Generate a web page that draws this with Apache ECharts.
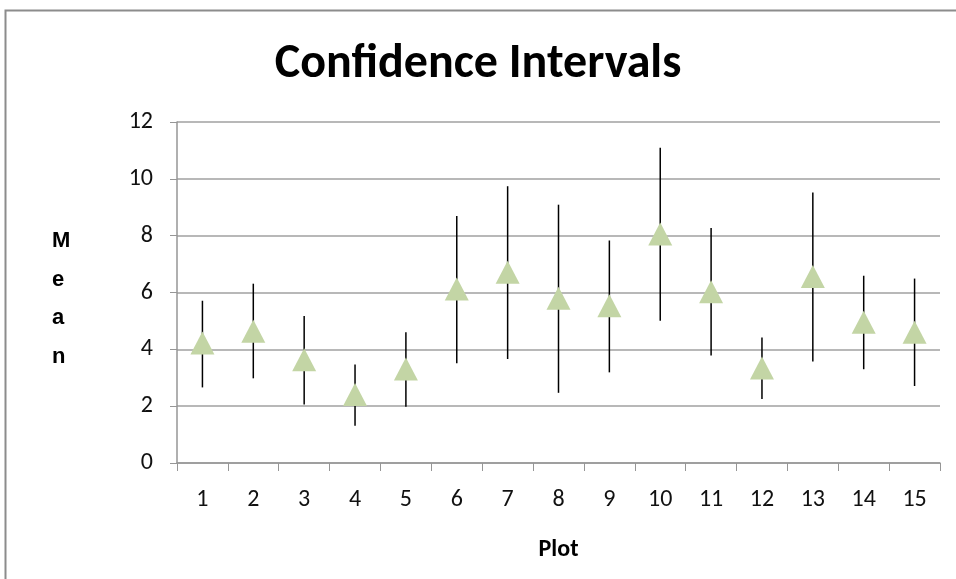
<!DOCTYPE html>
<html>
<head>
<meta charset="utf-8">
<script src="https://cdn.jsdelivr.net/npm/echarts@6/dist/echarts.min.js"></script>
<style>
  html, body { margin: 0; padding: 0; background: #fff; }
  #chart { width: 956px; height: 579px; }
</style>
</head>
<body>
<div id="chart"></div>
<script>
const categories = ["1", "2", "3", "4", "5", "6", "7", "8", "9", "10", "11", "12", "13", "14", "15"];
const means = [4.22, 4.64, 3.63, 2.41, 3.31, 6.12, 6.71, 5.8, 5.53, 8.06, 6.03, 3.34, 6.56, 4.95, 4.6];
const lower = [2.66, 2.98, 2.06, 1.31, 1.98, 3.51, 3.66, 2.47, 3.19, 5.01, 3.78, 2.25, 3.57, 3.3, 2.71];
const upper = [5.71, 6.31, 5.17, 3.47, 4.6, 8.69, 9.74, 9.09, 7.83, 11.09, 8.27, 4.42, 9.52, 6.59, 6.49];
const yTicks = [0, 2, 4, 6, 8, 10, 12];

const font = "Carlito, 'Liberation Sans', 'Noto Sans', sans-serif";

const chart = echarts.init(document.getElementById("chart"), null, { renderer: "canvas" });

const barData = categories.map((c, i) => [i, lower[i], upper[i]]);

chart.setOption({
  backgroundColor: "#fff",
  animation: false,
  title: {
    text: "Confidence Intervals",
    left: "center",
    top: 36,
    textStyle: { fontFamily: font, fontSize: 48, fontWeight: "bold", color: "#000" }
  },
  graphic: [
    {
      type: "rect",
      shape: { x: 5.5, y: 10.5, width: 1000, height: 1000 },
      style: { fill: "none", stroke: "#8c8c8c", lineWidth: 2 },
      silent: true
    },
    {
      type: "text",
      left: 52,
      top: 222,
      style: {
        text: "M\ne\na\nn",
        fontFamily: "'Liberation Sans', Arial, sans-serif",
        fontSize: 22,
        fontWeight: "bold",
        lineHeight: 38.5,
        align: "center",
        fill: "#000"
      }
    }
  ],
  grid: { left: 177, right: 16, top: 122, bottom: 116 },
  xAxis: {
    type: "category",
    data: categories,
    boundaryGap: true,
    name: "Plot",
    nameLocation: "middle",
    nameGap: 75,
    nameTextStyle: { fontFamily: font, fontSize: 24, fontWeight: "bold", color: "#000" },
    axisLine: { lineStyle: { color: "#969696", width: 1.5 } },
    axisTick: { show: true, length: 8, alignWithLabel: false, lineStyle: { color: "#969696" } },
    axisLabel: { fontFamily: font, fontSize: 24, color: "#111", margin: 25 },
    splitLine: { show: false }
  },
  yAxis: {
    type: "value",
    min: yTicks[0],
    max: yTicks[yTicks.length - 1],
    interval: 2,
    axisLine: { show: true, lineStyle: { color: "#969696", width: 1.5 } },
    axisTick: { show: true, length: 7, lineStyle: { color: "#969696" } },
    axisLabel: { fontFamily: font, fontSize: 24, color: "#111", margin: 24 },
    splitLine: { lineStyle: { color: "#a0a0a0", width: 1.5 } }
  },
  series: [
    {
      type: "custom",
      name: "CI",
      data: barData,
      z: 2,
      renderItem(params, api) {
        const top = api.coord([api.value(0), api.value(2)]);
        const bottom = api.coord([api.value(0), api.value(1)]);
        return {
          type: "line",
          shape: { x1: top[0], y1: top[1], x2: bottom[0], y2: bottom[1] },
          style: { stroke: "#000", lineWidth: 1.5 }
        };
      }
    },
    {
      type: "scatter",
      name: "Mean",
      data: means,
      z: 3,
      symbol: "triangle",
      symbolSize: [24, 23],
      itemStyle: { color: "#c3d5a5", opacity: 1 }
    }
  ]
});
</script>
</body>
</html>
